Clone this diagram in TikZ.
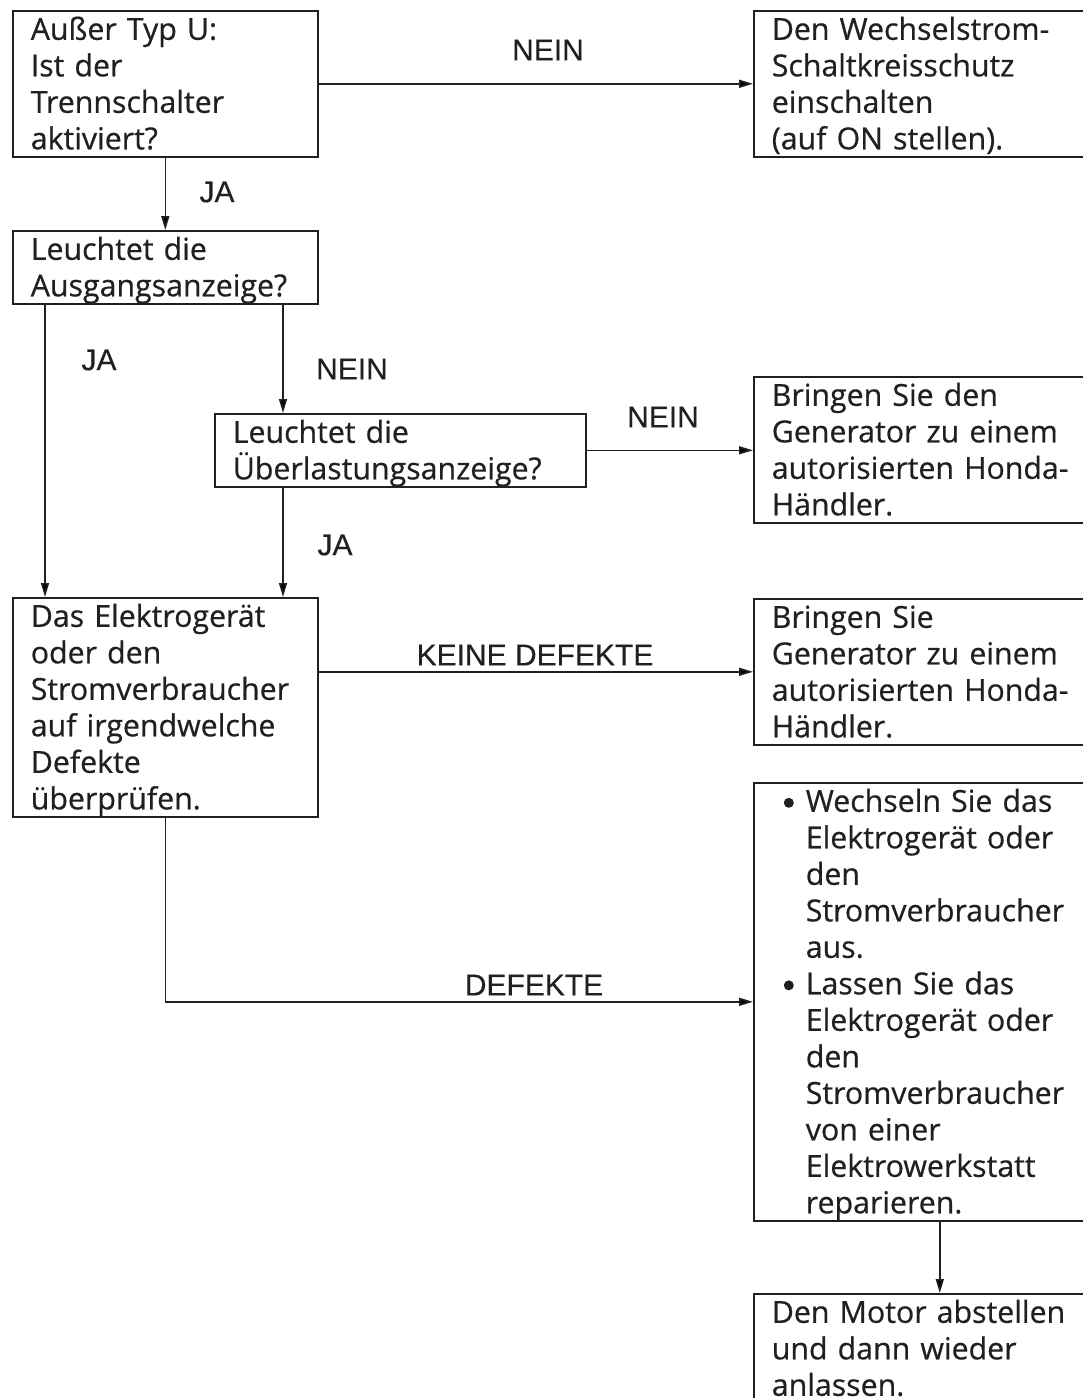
\documentclass[tikz,border=0pt]{standalone}
\usepackage{fontspec}
\newfontfamily\boxfont[FakeBold=0.6]{Open Sans}
\newfontfamily\labfont[FakeBold=0.3]{Liberation Sans}
\usetikzlibrary{arrows.meta,calc}
\definecolor{ink}{RGB}{35,31,32}
\newcommand{\lstrut}{\rule[-7.5pt]{0pt}{36.5pt}}
\newcommand{\bul}{\makebox[22pt][l]{\tikz[baseline=0pt]{\path (0pt,0pt) rectangle (10pt,14pt); \fill[ink] (5pt,9pt) circle[radius=5pt];}}}
\newcommand{\ind}{\hspace*{22pt}}
\begin{document}
\begin{tikzpicture}[x=1pt,y=-1pt,
  box/.style={draw=ink, line width=1.6pt, anchor=north west, inner xsep=18pt, inner ysep=0pt,
    align=left, font=\boxfont\fontsize{30.3}{36.5}\selectfont, text=ink,
    execute at begin node=\lstrut, execute at end node=\lstrut},
  lab/.style={font=\labfont\fontsize{30}{34}\selectfont, text=ink, inner sep=0pt},
  arr/.style={draw=ink, line width=1.6pt, -{Triangle[length=14pt,width=8pt]}}]
\useasboundingbox (0,0) rectangle (1083,1398);
\clip (0,0) rectangle (1083,1398);
\fill[white] (0,0) rectangle (1083,1398);

\node[box, text width=269pt] (A) at (12,10) {Außer Typ U:\\Ist der\\Trennschalter\\aktiviert?};
\node[box, text width=336pt] (B) at (753,10) {Den Wechselstrom-\\Schaltkreisschutz\\einschalten\\(auf ON stellen).};
\node[box, text width=269pt] (C) at (12,230) {Leuchtet die\\Ausgangsanzeige?};
\node[box, text width=335pt] (D) at (214,413) {Leuchtet die\\Überlastungsanzeige?};
\node[box, text width=336pt] (F) at (753,376) {Bringen Sie den\\Generator zu einem\\autorisierten Honda-\\Händler.};
\node[box, text width=269pt] (E) at (12,597) {Das Elektrogerät\\oder den\\Stromverbraucher\\auf irgendwelche\\Defekte\\überprüfen.};
\node[box, text width=336pt] (G) at (753,598) {Bringen Sie\\Generator zu einem\\autorisierten Honda-\\Händler.};
\node[box, inner xsep=30pt, text width=312pt] (H) at (753,782) {\bul Wechseln Sie das\\\ind Elektrogerät oder\\\ind den\\\ind Stromverbraucher\\\ind aus.\\\bul Lassen Sie das\\\ind Elektrogerät oder\\\ind den\\\ind Stromverbraucher\\\ind von einer\\\ind Elektrowerkstatt\\\ind reparieren.};
\node[box, text width=336pt] (I) at (753,1293) {Den Motor abstellen\\und dann wieder\\anlassen.};

\draw[arr] (A.east) -- (B.west);
\draw[arr] (A.south) -- (C.north);
\draw[arr] ([xshift=33pt]C.south west) -- ([xshift=33pt]C.south west |- E.north);
\draw[arr] ([xshift=271pt]C.south west) -- ([xshift=271pt]C.south west |- D.north);
\draw[arr] (D.east) -- (D.east -| F.west);
\draw[arr] ([xshift=69pt]D.south west) -- ([xshift=69pt]D.south west |- E.north);
\draw[arr] (E.east |- G.west) -- (G.west);
\draw[arr] (E.south) |- (H.west);
\draw[arr] (H.south) -- (I.north);

\node[lab] (l1) at (548,50) {NEIN};
\node[lab] (l2) at (217,192) {JA};
\node[lab] (l3) at (99,360) {JA};
\node[lab] (l4) at (352,369) {NEIN};
\node[lab] (l5) at (663,417) {NEIN};
\node[lab] (l6) at (335,545) {JA};
\node[lab] (l7) at (535,655) {KEINE DEFEKTE};
\node[lab] (l8) at (534,985) {DEFEKTE};
\end{tikzpicture}
\end{document}
